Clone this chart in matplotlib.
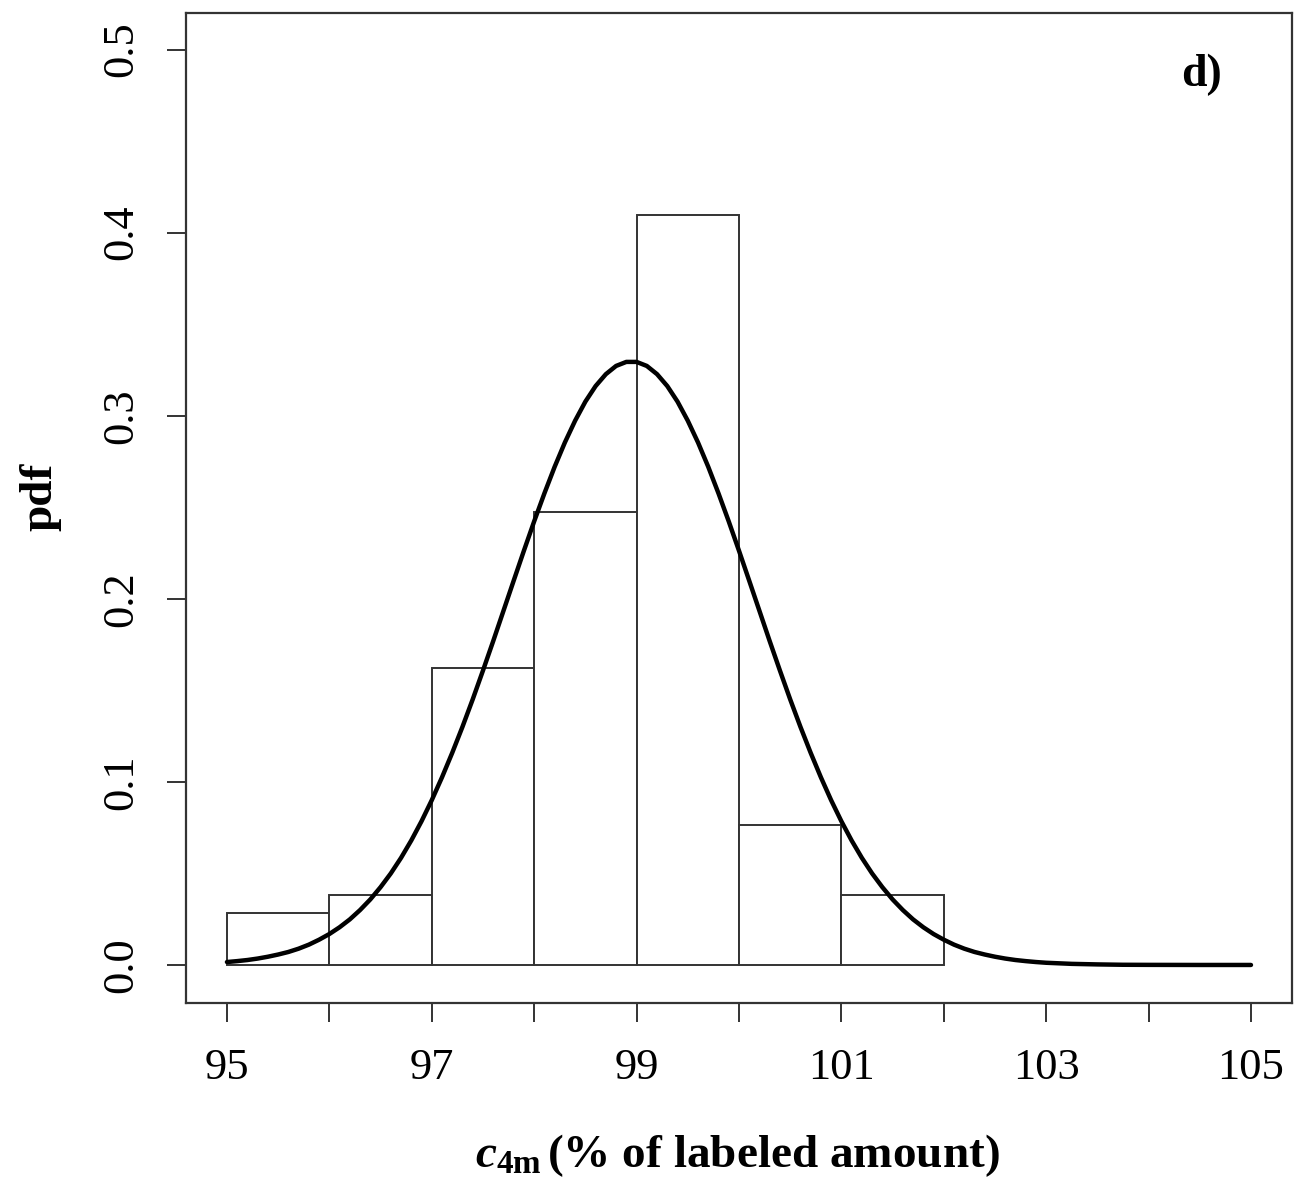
import matplotlib.pyplot as plt
import numpy as np

plt.rcParams['font.family'] = ['Liberation Serif', 'DejaVu Serif']
plt.rcParams['mathtext.fontset'] = 'custom'
plt.rcParams['mathtext.rm'] = 'Liberation Serif'
plt.rcParams['mathtext.bf'] = 'Liberation Serif:bold'
plt.rcParams['mathtext.it'] = 'Liberation Serif:italic'
plt.rcParams['mathtext.bfit'] = 'Liberation Serif:italic:bold'

# histogram (density scale)
bin_edges = [95, 96, 97, 98, 99, 100, 101, 102]
densities = [0.0286, 0.0381, 0.162, 0.2476, 0.4095, 0.0762, 0.0381]

# fitted pdf curve
curve_x = [95.0, 95.1, 95.2, 95.3, 95.4, 95.5, 95.6, 95.7, 95.8, 95.9,
           96.0, 96.1, 96.2, 96.3, 96.4, 96.5, 96.6, 96.7, 96.8, 96.9,
           97.0, 97.1, 97.2, 97.3, 97.4, 97.5, 97.6, 97.7, 97.8, 97.9,
           98.0, 98.1, 98.2, 98.3, 98.4, 98.5, 98.6, 98.7, 98.8, 98.9,
           99.0, 99.1, 99.2, 99.3, 99.4, 99.5, 99.6, 99.7, 99.8, 99.9,
           100.0, 100.1, 100.2, 100.3, 100.4, 100.5, 100.6, 100.7, 100.8, 100.9,
           101.0, 101.1, 101.2, 101.3, 101.4, 101.5, 101.6, 101.7, 101.8, 101.9,
           102.0, 102.1, 102.2, 102.3, 102.4, 102.5, 102.6, 102.7, 102.8, 102.9,
           103.0, 103.25, 103.5, 103.75, 104.0, 104.5, 105.0]
curve_y = [0.0016, 0.0021, 0.0027, 0.0035, 0.0045, 0.0057, 0.0071, 0.0089, 0.0111, 0.0138,
           0.0169, 0.0206, 0.0249, 0.0300, 0.0358, 0.0425, 0.0500, 0.0585, 0.0680, 0.0785,
           0.0900, 0.1025, 0.1159, 0.1301, 0.1451, 0.1608, 0.1769, 0.1934, 0.2099, 0.2263,
           0.2423, 0.2576, 0.2721, 0.2854, 0.2973, 0.3077, 0.3162, 0.3227, 0.3272, 0.3294,
           0.3294, 0.3272, 0.3227, 0.3162, 0.3077, 0.2973, 0.2854, 0.2721, 0.2576, 0.2423,
           0.2263, 0.2099, 0.1934, 0.1769, 0.1608, 0.1451, 0.1301, 0.1159, 0.1025, 0.0900,
           0.0785, 0.0680, 0.0585, 0.0500, 0.0425, 0.0358, 0.0300, 0.0249, 0.0206, 0.0169,
           0.0138, 0.0111, 0.0089, 0.0071, 0.0057, 0.0045, 0.0035, 0.0027, 0.0021, 0.0016,
           0.0012, 0.0006, 0.0003, 0.0001, 0.00005, 0.0, 0.0]

x_ticks = list(range(95, 106))
x_labels = [str(t) if t % 2 == 1 else '' for t in x_ticks]
y_ticks = [0.0, 0.1, 0.2, 0.3, 0.4, 0.5]

fig = plt.figure(figsize=(12.97, 11.89), dpi=100)
ax = fig.add_axes([0.1434, 0.1564, 0.8527, 0.8327])

lefts = bin_edges[:-1]
widths = np.diff(bin_edges)
ax.bar(lefts, densities, width=widths, align='edge', facecolor='white',
       edgecolor='#333333', linewidth=1.4)
ax.plot(curve_x, curve_y, color='black', lw=3.2, solid_capstyle='round',
        solid_joinstyle='round')

ax.set_xlim(94.6, 105.4)
ax.set_ylim(-0.0208, 0.52)

ax.set_xticks(x_ticks)
ax.set_xticklabels(x_labels)
ax.set_yticks(y_ticks)
ax.set_yticklabels(['%.1f' % v for v in y_ticks], rotation=90, va='center')
ax.tick_params(axis='both', direction='out', length=13.5, width=1.4,
               color='#333333', labelsize=32)
ax.tick_params(axis='x', pad=19)
ax.tick_params(axis='y', pad=19)

for s in ax.spines.values():
    s.set_linewidth(1.6)
    s.set_color('#333333')

fig.text(737 / 1297, 1 - 1156 / 1189,
         r'$\mathbfit{c}_{\mathbf{4m}}\,$(% of labeled amount)',
         ha='center', va='center', fontsize=34, fontweight='bold')
fig.text(40 / 1297, 1 - 497 / 1189, 'pdf', rotation=90, ha='center', va='center',
         fontsize=34, fontweight='bold')
ax.text(0.9186, 0.937, 'd)', transform=ax.transAxes, ha='center', va='center',
        fontsize=33, fontweight='bold')

fig.savefig('out.png', dpi=100)
